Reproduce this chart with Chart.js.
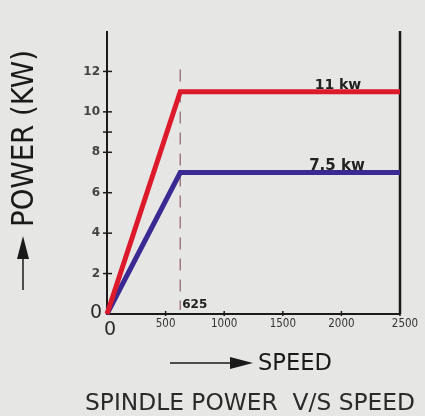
<!DOCTYPE html>
<html>
<head>
<meta charset="utf-8">
<script src="https://cdn.jsdelivr.net/npm/chart.js@4/dist/chart.umd.min.js"></script>
<style>
  html, body { margin: 0; padding: 0; background: #e6e6e4; }
  #wrap { width: 425px; height: 416px; position: relative; }
</style>
</head>
<body>
<div id="wrap"><canvas id="mychart" width="425" height="416"></canvas></div>
<script>
// data
const speeds = [0, 625, 2500];
const power11 = [0, 11, 11];
const power75 = [0, 7, 7];
const kneeSpeed = 625;
const xTickValues = [500, 1000, 1500, 2000, 2500];
const yTickValues = [2, 4, 6, 8, 10, 12];
const yMinorTicks = [9];
const seriesLabels = ['11 kw', '7.5 kw'];

const pts = (ys) => speeds.map((s, i) => ({ x: s, y: ys[i] }));

function fitFont(ctx, text, width, weight, family) {
    ctx.font = weight + ' 20px ' + family;
    const w = ctx.measureText(text).width;
    return weight + ' ' + (20 * width / w).toFixed(2) + 'px ' + family;
}

const decor = {
    id: 'decor',
    beforeDatasetsDraw(chart) {
        const ctx = chart.ctx;
        const xs = chart.scales.x, ys = chart.scales.y;
        const x0 = xs.getPixelForValue(0), y0 = ys.getPixelForValue(0);
        const xEnd = xs.getPixelForValue(2500), yTop = ys.getPixelForValue(14);
        ctx.save();
        // dashed line at knee
        const xk = xs.getPixelForValue(kneeSpeed);
        ctx.strokeStyle = '#a07888';
        ctx.lineWidth = 1.5;
        ctx.setLineDash([12, 9]);
        ctx.beginPath();
        ctx.moveTo(xk, ys.getPixelForValue(12.1));
        ctx.lineTo(xk, y0 - 4);
        ctx.stroke();
        ctx.setLineDash([]);
        // axes
        ctx.strokeStyle = '#1e1a1a';
        ctx.lineWidth = 2;
        ctx.beginPath();
        ctx.moveTo(x0, yTop);
        ctx.lineTo(x0, y0);
        ctx.lineTo(xEnd, y0);
        ctx.stroke();
        ctx.lineWidth = 2.5;
        ctx.beginPath();
        ctx.moveTo(xEnd, yTop);
        ctx.lineTo(xEnd, y0);
        ctx.stroke();
        // y ticks
        ctx.lineWidth = 1.5;
        yTickValues.concat(yMinorTicks).forEach(v => {
            const y = ys.getPixelForValue(v);
            ctx.beginPath();
            ctx.moveTo(x0 - 4, y);
            ctx.lineTo(x0 + 5, y);
            ctx.stroke();
        });
        // x ticks
        xTickValues.forEach(v => {
            const x = xs.getPixelForValue(v);
            ctx.beginPath();
            ctx.moveTo(x, y0 - 3);
            ctx.lineTo(x, y0 + 2);
            ctx.stroke();
        });
        ctx.restore();
    },
    afterDatasetsDraw(chart) {
        const ctx = chart.ctx;
        const xs = chart.scales.x, ys = chart.scales.y;
        const x0 = xs.getPixelForValue(0), y0 = ys.getPixelForValue(0);
        ctx.save();
        ctx.fillStyle = '#444';
        ctx.textBaseline = 'middle';
        // y tick labels
        ctx.font = 'bold 12px "DejaVu Sans"';
        ctx.textAlign = 'right';
        yTickValues.forEach(v => ctx.fillText(String(v), x0 - 7, ys.getPixelForValue(v)));
        // x tick labels
        ctx.fillStyle = '#333';
        ctx.font = '11.5px "DejaVu Sans Condensed", "DejaVu Sans"';
        ctx.textAlign = 'center';
        xTickValues.forEach(v => ctx.fillText(String(v), xs.getPixelForValue(v) + (v === 2500 ? 5 : 0), y0 + 10));
        // big zeros
        ctx.fillStyle = '#2a2a2a';
        ctx.font = '19px "DejaVu Sans"';
        ctx.fillText('0', x0 - 11, y0 - 1);
        ctx.fillText('0', x0 + 3, y0 + 16);
        // knee label
        ctx.fillStyle = '#222';
        ctx.font = 'bold 12px "DejaVu Sans"';
        ctx.textAlign = 'left';
        ctx.fillText(String(kneeSpeed), xs.getPixelForValue(kneeSpeed) + 2, y0 - 9);
        // series labels
        ctx.font = 'bold 14px "DejaVu Sans"';
        ctx.textAlign = 'center';
        ctx.textBaseline = 'alphabetic';
        ctx.fillText(seriesLabels[0], 338, ys.getPixelForValue(power11[2]) - 3);
        ctx.font = 'bold 15px "DejaVu Sans"';
        ctx.fillText(seriesLabels[1], 337, ys.getPixelForValue(power75[2]) - 3);
        // y title with arrow
        ctx.fillStyle = '#1a1a1a';
        ctx.strokeStyle = '#1a1a1a';
        ctx.save();
        ctx.translate(33, 227);
        ctx.rotate(-Math.PI / 2);
        ctx.font = fitFont(ctx, 'POWER (KW)', 177, 'normal', '"DejaVu Sans Condensed", "DejaVu Sans"');
        ctx.textAlign = 'left';
        ctx.textBaseline = 'alphabetic';
        ctx.fillText('POWER (KW)', 0, 0);
        ctx.restore();
        ctx.lineWidth = 1.5;
        ctx.beginPath();
        ctx.moveTo(23, 290);
        ctx.lineTo(23, 255);
        ctx.stroke();
        ctx.beginPath();
        ctx.moveTo(23, 236);
        ctx.lineTo(17, 259);
        ctx.lineTo(29, 259);
        ctx.closePath();
        ctx.fill();
        // x title with arrow
        ctx.beginPath();
        ctx.moveTo(170, 363);
        ctx.lineTo(235, 363);
        ctx.stroke();
        ctx.beginPath();
        ctx.moveTo(253, 363);
        ctx.lineTo(230, 357);
        ctx.lineTo(230, 369);
        ctx.closePath();
        ctx.fill();
        ctx.textAlign = 'left';
        ctx.textBaseline = 'middle';
        ctx.font = fitFont(ctx, 'SPEED', 74, 'normal', '"DejaVu Sans"');
        ctx.fillText('SPEED', 258, 364);
        // caption
        ctx.fillStyle = '#2a2a2a';
        ctx.font = fitFont(ctx, 'SPINDLE POWER  V/S SPEED', 330, 'normal', '"DejaVu Sans"');
        ctx.fillText('SPINDLE POWER  V/S SPEED', 85, 404);
        ctx.restore();
    }
};

const ctx = document.getElementById('mychart');
new Chart(ctx, {
    type: 'line',
    data: {
        datasets: [{
            label: seriesLabels[0],
            data: pts(power11),
            borderColor: '#dc1a2c',
            borderWidth: 5,
            pointRadius: 0,
            tension: 0,
            clip: false,
        }, {
            label: seriesLabels[1],
            data: pts(power75),
            borderColor: '#3b2a92',
            borderWidth: 5,
            pointRadius: 0,
            tension: 0,
            clip: false,
        }],
    },
    options: {
        responsive: false,
        animation: false,
        layout: { padding: { left: 107, right: 25, top: 31, bottom: 102 } },
        plugins: { legend: { display: false }, tooltip: { enabled: false } },
        scales: {
            x: { type: 'linear', min: 0, max: 2500, display: false },
            y: { min: 0, max: 14, display: false },
        },
    },
    plugins: [decor],
});
</script>
</body>
</html>
